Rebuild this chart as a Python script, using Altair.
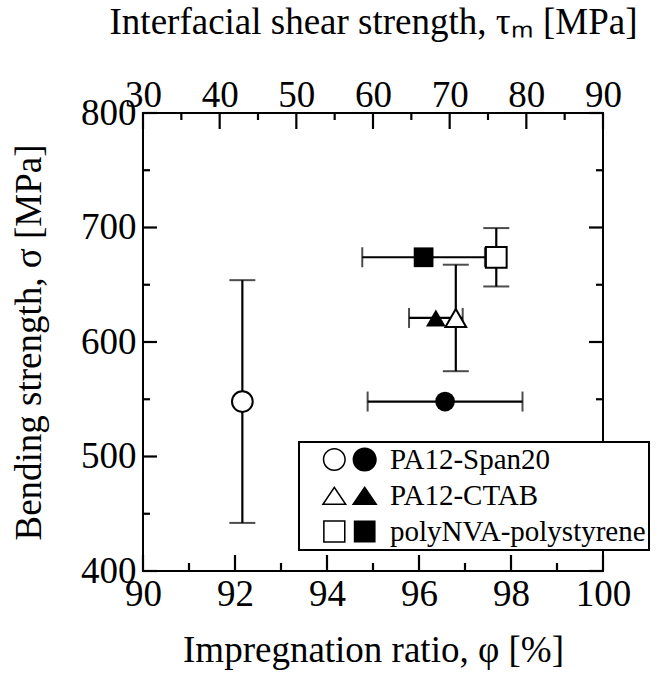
import altair as alt
import pandas as pd

FONT = "Liberation Serif"

# ---- data ----
series = ["PA12-Span20", "PA12-CTAB", "polyNVA-polystyrene"]
shapes = ["circle", "triangle-up", "square"]

# open symbols: impregnation ratio (bottom axis) vs bending strength
phi = [92.16, 96.80, 97.68]
sigma = [548, 621, 674]
sigma_err = [106, 46.5, 25.5]

# filled symbols: interfacial shear strength (top axis) vs bending strength
tau = [69.4, 68.2, 66.6]
tau_err = [10.1, 3.5, 8.0]

# axis tick values
phi_major = [90, 92, 94, 96, 98, 100]
phi_minor = [91, 93, 95, 97, 99]
tau_major = [30, 40, 50, 60, 70, 80, 90]
tau_minor = [35, 45, 55, 65, 75, 85]
sig_major = [400, 500, 600, 700, 800]
sig_minor = [450, 550, 650, 750]

# legend glyphs: open + filled symbol side by side (unit box paths)
legend_symbols = [
    "M -2.43 0 A 1.05 1.05 0 1 0 -0.33 0 A 1.05 1.05 0 1 0 -2.43 0 Z "
    "M -2.29 0 A 0.91 0.91 0 1 1 -0.47 0 A 0.91 0.91 0 1 1 -2.29 0 Z "
    "M 0.28 0 A 1.1 1.1 0 1 0 2.48 0 A 1.1 1.1 0 1 0 0.28 0 Z",
    "M -1.38 -0.86 L -2.54 0.86 L -0.22 0.86 Z "
    "M -1.38 -0.61 L -0.483 0.72 L -2.277 0.72 Z "
    "M 1.38 -0.86 L 0.20 0.86 L 2.56 0.86 Z",
    "M -2.40 -1.02 L -0.36 -1.02 L -0.36 1.02 L -2.40 1.02 Z "
    "M -2.26 -0.88 L -2.26 0.88 L -0.50 0.88 L -0.50 -0.88 Z "
    "M 0.39 -0.99 L 2.37 -0.99 L 2.37 0.99 L 0.39 0.99 Z",
]

W, H = 460, 458

df_open = pd.DataFrame({"series": series, "phi": phi, "sigma": sigma, "err": sigma_err})
df_open["lo"] = df_open["sigma"] - df_open["err"]
df_open["hi"] = df_open["sigma"] + df_open["err"]

df_fill = pd.DataFrame({"series": series, "tau": tau, "sigma": sigma, "err": tau_err})
df_fill["lo"] = df_fill["tau"] - df_fill["err"]
df_fill["hi"] = df_fill["tau"] + df_fill["err"]

xs_phi = alt.Scale(domain=[90, 100], nice=False, zero=False)
xs_tau = alt.Scale(domain=[30, 90], nice=False, zero=False)
ys = alt.Scale(domain=[400, 800], nice=False, zero=False)
shape_scale = alt.Scale(domain=series, range=shapes)

common_axis = dict(ticks=False, domain=False, grid=False, labelFont=FONT, labelFontSize=37,
                   labelColor="black", labelFlush=False, labelOverlap=False,
                   titleFont=FONT, titleFontSize=37, titleFontWeight="normal",
                   titleColor="black", format="d")

ax_phi = alt.Axis(orient="bottom", values=phi_major, labelPadding=5, titlePadding=20,
                  title="Impregnation ratio, φ [%]", **common_axis)
ax_tau = alt.Axis(orient="top", values=tau_major, labelPadding=-1, titlePadding=35,
                  title="Interfacial shear strength, τₘ [MPa]", **common_axis)
ax_sig = alt.Axis(orient="left", values=sig_major, labelPadding=7, titlePadding=32,
                  title="Bending strength, σ [MPa]", **common_axis)

def ydef(field):
    return alt.Y(f"{field}:Q", scale=ys, axis=ax_sig)

RULE = dict(color="black", strokeWidth=2.2)

# ---- frame ticks (inward) ----
def xticks(vals, scale, axis, y0, y1):
    return alt.Chart(pd.DataFrame({"v": vals})).mark_rule(**RULE).encode(
        x=alt.X("v:Q", scale=scale, axis=axis), y=alt.value(y0), y2=alt.value(y1))

def yticks(vals, x0, x1):
    return alt.Chart(pd.DataFrame({"v": vals})).mark_rule(**RULE).encode(
        y=ydef("v"), x=alt.value(x0), x2=alt.value(x1))

# ---- filled group (top axis) ----
f_base = alt.Chart(df_fill)
f_bar = f_base.mark_rule(**RULE).encode(
    x=alt.X("lo:Q", scale=xs_tau, axis=ax_tau), x2="hi:Q", y=ydef("sigma"))
f_cap_lo = f_base.mark_tick(orient="vertical", size=20, thickness=2, color="black").encode(
    x=alt.X("lo:Q", scale=xs_tau, axis=ax_tau), y=ydef("sigma"))
f_cap_hi = f_base.mark_tick(orient="vertical", size=20, thickness=2, color="black").encode(
    x=alt.X("hi:Q", scale=xs_tau, axis=ax_tau), y=ydef("sigma"))
f_pts = f_base.mark_point(filled=True, color="black", opacity=1, strokeWidth=0, size=390).encode(
    x=alt.X("tau:Q", scale=xs_tau, axis=ax_tau), y=ydef("sigma"),
    shape=alt.Shape("series:N", scale=shape_scale, legend=None))

filled_group = alt.layer(
    xticks(tau_major, xs_tau, ax_tau, 0, 16),
    xticks(tau_minor, xs_tau, ax_tau, 0, 7),
    yticks(sig_major, 0, 14), yticks(sig_minor, 0, 7),
    yticks(sig_major, W, W - 14), yticks(sig_minor, W, W - 7),
    f_bar, f_cap_lo, f_cap_hi, f_pts)

# ---- open group (bottom axis) ----
o_base = alt.Chart(df_open)
o_bar = o_base.mark_rule(**RULE).encode(
    x=alt.X("phi:Q", scale=xs_phi, axis=ax_phi), y=ydef("lo"), y2="hi:Q")
o_cap_lo = o_base.mark_tick(orient="horizontal", size=26, thickness=2, color="black").encode(
    x=alt.X("phi:Q", scale=xs_phi, axis=ax_phi), y=ydef("lo"))
o_cap_hi = o_base.mark_tick(orient="horizontal", size=26, thickness=2, color="black").encode(
    x=alt.X("phi:Q", scale=xs_phi, axis=ax_phi), y=ydef("hi"))
o_pts = o_base.mark_point(filled=True, color="white", stroke="black", strokeWidth=2,
                          opacity=1, size=430).encode(
    x=alt.X("phi:Q", scale=xs_phi, axis=ax_phi), y=ydef("sigma"),
    shape=alt.Shape("series:N", scale=shape_scale, legend=None))

open_group = alt.layer(
    xticks(phi_major, xs_phi, ax_phi, H, H - 16),
    xticks(phi_minor, xs_phi, ax_phi, H, H - 8),
    o_bar, o_cap_lo, o_cap_hi, o_pts)

# ---- legend (open + filled glyph per series) ----
legend_layer = alt.Chart(pd.DataFrame({"series": series})).transform_filter(
    "false").mark_point(filled=True, color="black", opacity=1, strokeWidth=0, size=484).encode(
    shape=alt.Shape("series:N", scale=alt.Scale(domain=series, range=legend_symbols),
                    legend=alt.Legend(
                        orient="none", legendX=156, legendY=329, title=None, padding=3,
                        labelFont=FONT, labelFontSize=29, labelColor="black",
                        labelOffset=26, labelLimit=0, symbolOffset=33,
                        labelExpr="datum.label + '\u00a0\u00a0\u00a0\u00a0\u00a0'",
                        symbolSize=484, symbolFillColor="black", symbolStrokeWidth=0,
                        symbolOpacity=1,
                        rowPadding=6, strokeColor="black", fillColor="white")))

chart = alt.layer(filled_group, open_group, legend_layer).resolve_scale(
    x="independent", shape="independent"
).properties(
    width=W, height=H,
    padding={"left": 143, "top": 113, "right": 65, "bottom": 102},
    autosize=alt.AutoSizeParams(type="none"),
    background="white",
).configure_view(stroke="black", strokeWidth=2).configure_legend(strokeWidth=2)

chart.save("out.html", embed_options={"renderer": "svg", "actions": False})
